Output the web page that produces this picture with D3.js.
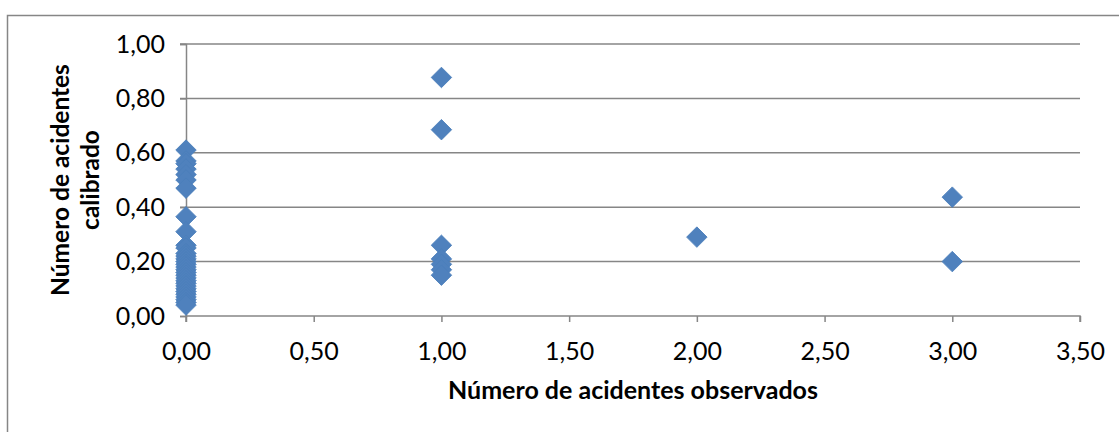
<!DOCTYPE html>
<html><head><meta charset="utf-8">
<script src="https://cdn.jsdelivr.net/npm/d3@7"></script>
<style>
html,body{margin:0;padding:0;background:#fff;}
svg{display:block;}
text{font-family:Lato,"Open Sans",sans-serif;fill:#000;}
</style></head>
<body>
<svg id="chart" width="1119" height="432"></svg>
<script>
// observed accidents (x) and the calibrated values read at each observed count
const observedValues = [0, 1, 2, 3];
const calibratedAt0 = [0.61,0.57,0.56,0.54,0.52,0.50,0.47,
  0.365,0.31,0.26,0.25,0.23,0.22,0.21,0.20,0.19,0.18,0.17,0.16,0.15,0.14,0.13,0.12,0.11,0.10,0.09,0.08,0.07,0.06,0.05,0.04];
const calibratedAt1 = [0.877,0.685,0.26,0.21,0.19,0.17,0.15];
const calibratedAt2 = [0.29];
const calibratedAt3 = [0.437,0.20];
const xTicks = [0,0.5,1,1.5,2,2.5,3,3.5];
const yTicks = [0,0.2,0.4,0.6,0.8,1.0];
const xTitle = "Número de acidentes observados";
const yTitleLines = ["Número de acidentes","calibrado"];

const groups = [calibratedAt0, calibratedAt1, calibratedAt2, calibratedAt3];
const points = [];
groups.forEach((vals,gi)=>vals.forEach(v=>points.push([observedValues[gi], v])));

const svg = d3.select("#chart");
const fmt = v => d3.format(".2f")(v).replace(".", ",");

svg.append("rect").attr("x",7.5).attr("y",15.5).attr("width",1130).attr("height",440)
  .attr("fill","none").attr("stroke","#868686").attr("stroke-width",1.5);

const x = d3.scaleLinear().domain([0,3.5]).range([186,1080]);
const y = d3.scaleLinear().domain([0,1]).range([316,44]);

// gridlines
svg.append("g").selectAll("line").data(yTicks.filter(d=>d>0)).join("line")
  .attr("x1",180).attr("x2",1080).attr("y1",d=>y(d)).attr("y2",d=>y(d))
  .attr("stroke","#868686").attr("stroke-width",1.5);

const yAxis = svg.append("g").attr("transform","translate(186,0)")
  .call(d3.axisLeft(y).tickValues(yTicks).tickFormat(fmt).tickSize(6).tickPadding(15));
const xAxis = svg.append("g").attr("transform","translate(0,316)")
  .call(d3.axisBottom(x).tickValues(xTicks).tickFormat(fmt).tickSize(6).tickPadding(20));
[yAxis,xAxis].forEach(g=>{
  g.select(".domain").attr("stroke","#868686").attr("stroke-width",1.5);
  g.selectAll(".tick line").attr("stroke","#868686").attr("stroke-width",1.5);
  g.selectAll(".tick text").attr("font-family","Lato, sans-serif").attr("font-size",25).attr("fill","#000");
});
xAxis.select(".domain").attr("d","M186,6V0H1080V6");

svg.append("g").selectAll("path").data(points).join("path")
  .attr("transform",d=>`translate(${x(d[0])},${y(d[1])}) rotate(45)`)
  .attr("d",d3.symbol().type(d3.symbolSquare).size(210))
  .attr("fill","#4F81BD").attr("stroke","#4A7EBB").attr("stroke-width",0.8);

svg.append("text").attr("x",633).attr("y",399).attr("text-anchor","middle")
  .attr("font-weight","bold").attr("font-size",25).text(xTitle);
const yt = svg.append("text").attr("transform","translate(0,180) rotate(-90)")
  .attr("text-anchor","middle").attr("font-weight","bold").attr("font-size",24.5);
yt.selectAll("tspan").data(yTitleLines).join("tspan")
  .attr("x",0).attr("y",(d,i)=>69+i*30).text(d=>d);
</script>
</body></html>
